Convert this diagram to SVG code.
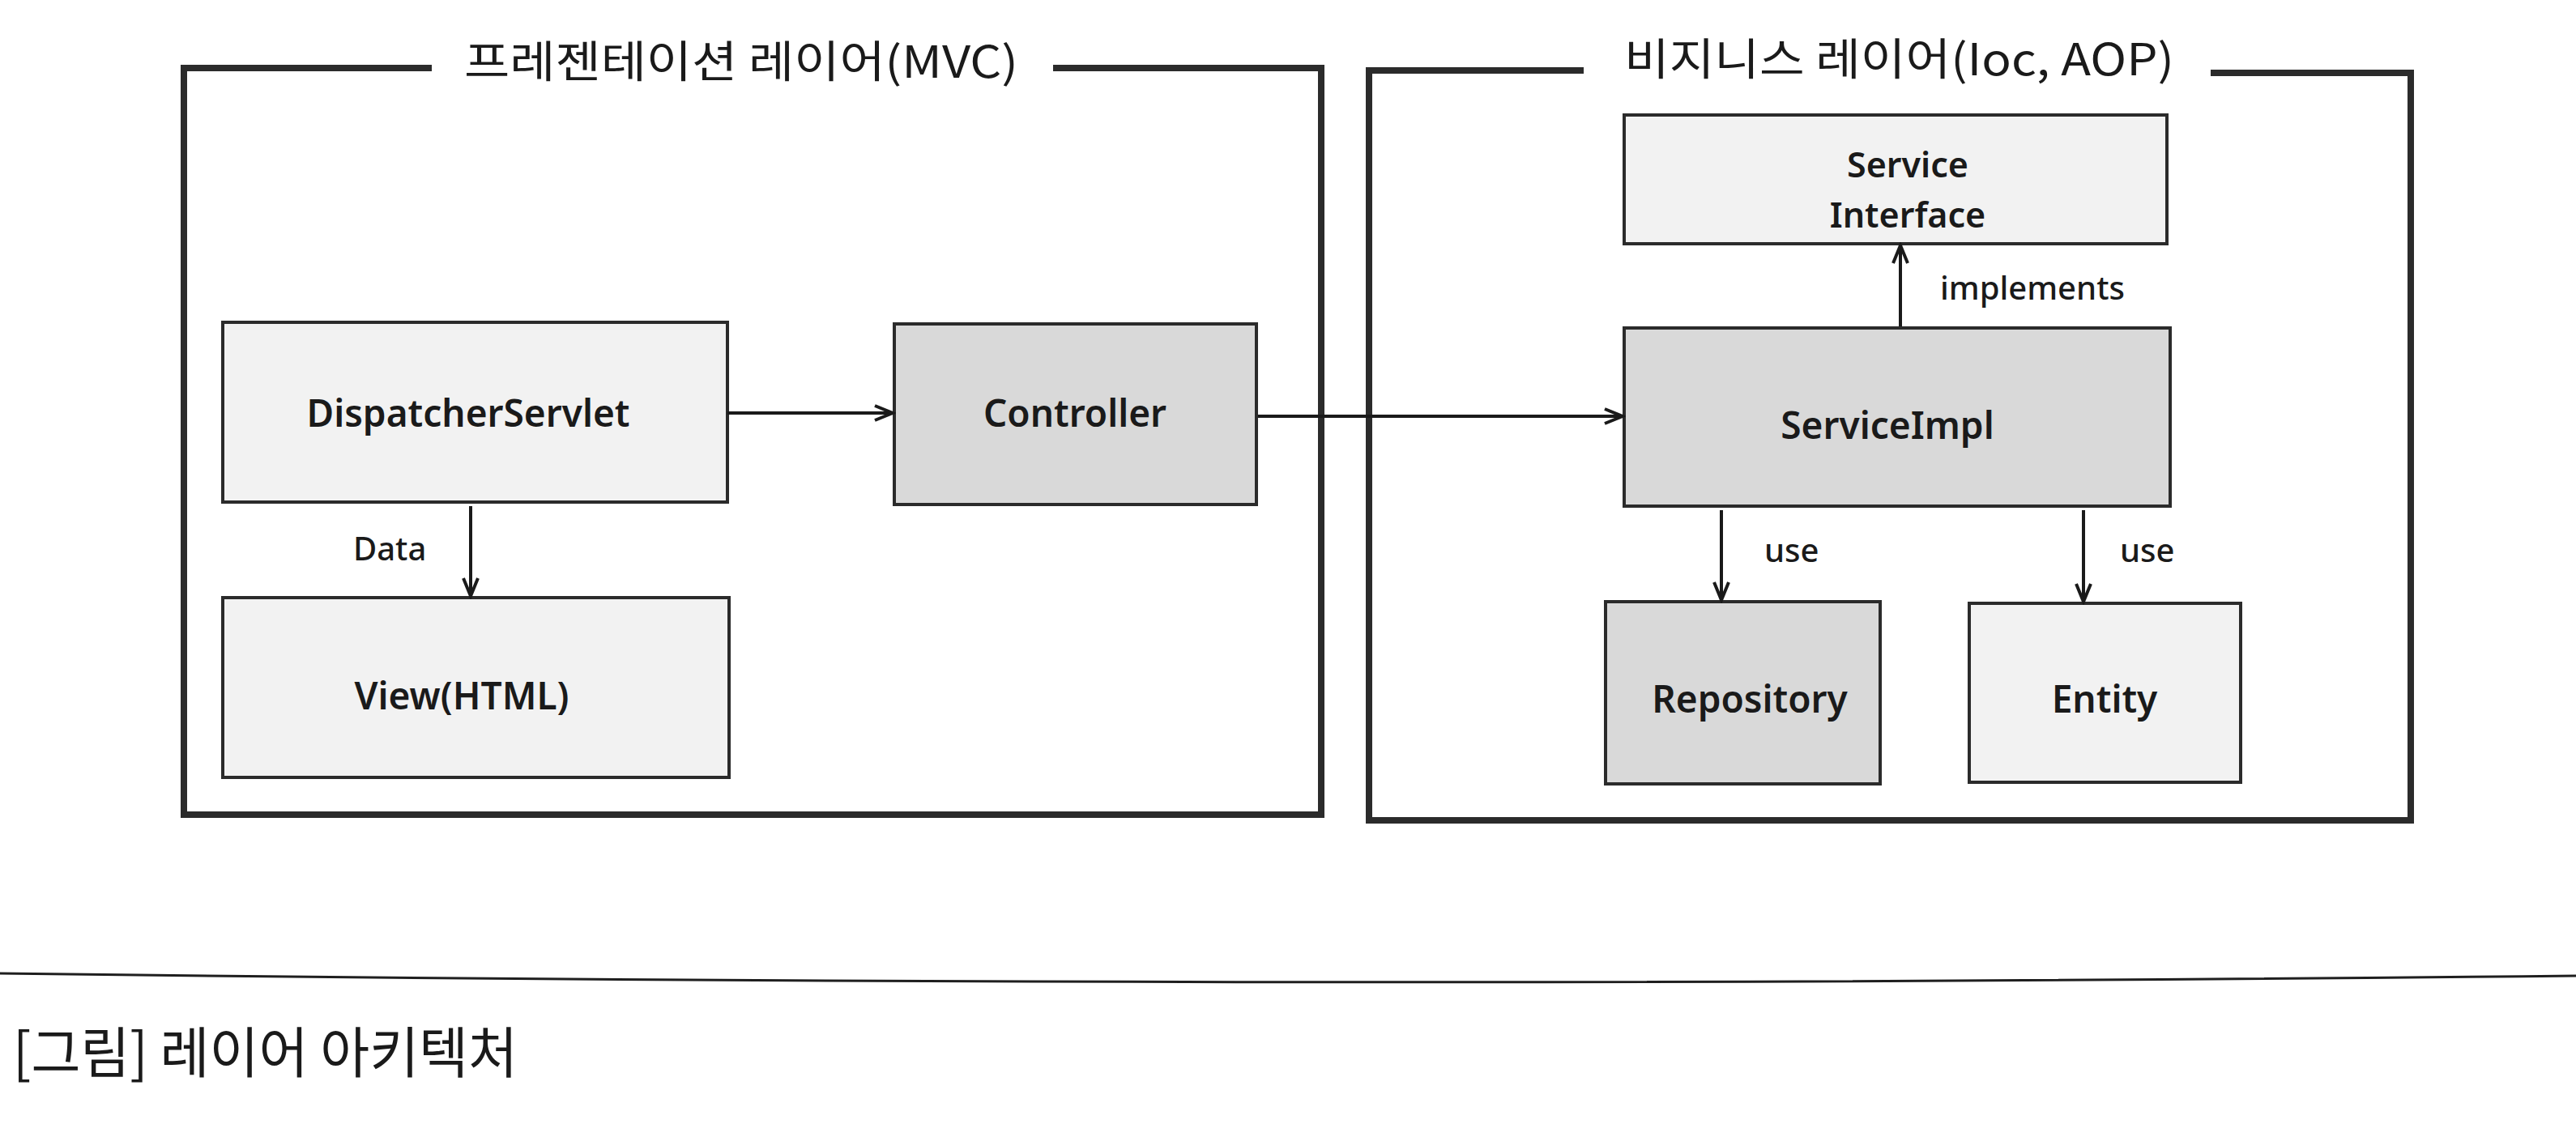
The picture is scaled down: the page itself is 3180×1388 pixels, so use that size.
<svg xmlns="http://www.w3.org/2000/svg" width="3180" height="1388" viewBox="0 0 3180 1388">
<style>
.frame{fill:none;stroke:#2b2b2b;stroke-width:8}
.box{stroke:#2b2b2b;stroke-width:4}
.light{fill:#f2f2f2}
.dark{fill:#d9d9d9}
.lbl{font-family:"Noto Sans","Liberation Sans",sans-serif;font-size:46px;font-weight:600;fill:#1a1a1a;text-anchor:middle}
.small{font-family:"Noto Sans","Liberation Sans",sans-serif;font-size:40px;font-weight:500;fill:#1a1a1a}
.title{font-family:"Noto Sans CJK KR","Noto Sans",sans-serif;font-size:54px;fill:#1a1a1a}
.conn{fill:none;stroke:#1a1a1a;stroke-width:4}
</style>
<defs>
<marker id="arr" markerUnits="userSpaceOnUse" markerWidth="30" markerHeight="30" viewBox="0 0 30 30" refX="26" refY="15" orient="auto">
<path d="M4,6 L26,15 L4,24" fill="none" stroke="#1a1a1a" stroke-width="4"/>
</marker>
</defs>
<rect width="3180" height="1388" fill="#ffffff"/>
<g id="presentation-layer">
<path class="frame" d="M533,84 H227 V1006 H1631 V84 H1300"/>
<text class="title" x="573" y="96" textLength="684" lengthAdjust="spacingAndGlyphs">프레젠테이션 레이어(MVC)</text>
</g>
<g id="business-layer">
<path class="frame" d="M1955,87 H1690 V1013 H2976 V90 H2729"/>
<text class="title" x="2005" y="93" textLength="679" lengthAdjust="spacingAndGlyphs">비지니스 레이어(Ioc, AOP)</text>
</g>
<g id="dispatcher-servlet">
<rect class="box light" x="275" y="398" width="623" height="222"/>
<text class="lbl" x="578" y="527">DispatcherServlet</text>
</g>
<g id="controller">
<rect class="box dark" x="1104" y="400" width="447" height="223"/>
<text class="lbl" x="1327" y="527">Controller</text>
</g>
<g id="view-html">
<rect class="box light" x="275" y="738" width="625" height="222"/>
<text class="lbl" x="570" y="876">View(HTML)</text>
</g>
<g id="service-interface">
<rect class="box light" x="2005" y="142" width="670" height="159"/>
<text class="lbl" x="2355" y="219" style="font-size:43px">Service</text>
<text class="lbl" x="2355" y="281" style="font-size:43px">Interface</text>
</g>
<g id="service-impl">
<rect class="box dark" x="2005" y="405" width="674" height="220"/>
<text class="lbl" x="2330" y="542">ServiceImpl</text>
</g>
<g id="repository">
<rect class="box dark" x="1982" y="743" width="339" height="225"/>
<text class="lbl" x="2160" y="880">Repository</text>
</g>
<g id="entity">
<rect class="box light" x="2431" y="745" width="335" height="221"/>
<text class="lbl" x="2598" y="880">Entity</text>
</g>
<g id="connectors">
<line class="conn" x1="898" y1="510" x2="1102" y2="510" marker-end="url(#arr)"/>
<line class="conn" x1="581" y1="625" x2="581" y2="736" marker-end="url(#arr)"/>
<text class="small" x="436" y="692">Data</text>
<line class="conn" x1="1553" y1="514" x2="2003" y2="514" marker-end="url(#arr)"/>
<line class="conn" x1="2346" y1="403" x2="2346" y2="303" marker-end="url(#arr)"/>
<text class="small" x="2395" y="370">implements</text>
<line class="conn" x1="2125" y1="630" x2="2125" y2="741" marker-end="url(#arr)"/>
<text class="small" x="2178" y="694">use</text>
<line class="conn" x1="2572" y1="630" x2="2572" y2="743" marker-end="url(#arr)"/>
<text class="small" x="2617" y="694">use</text>
</g>
<path d="M0,1202 Q1590,1222 3180,1205" fill="none" stroke="#1f1f1f" stroke-width="3"/>
<text class="title" x="16" y="1325" style="font-size:68px" textLength="623" lengthAdjust="spacingAndGlyphs">[그림] 레이어 아키텍처</text>
</svg>
